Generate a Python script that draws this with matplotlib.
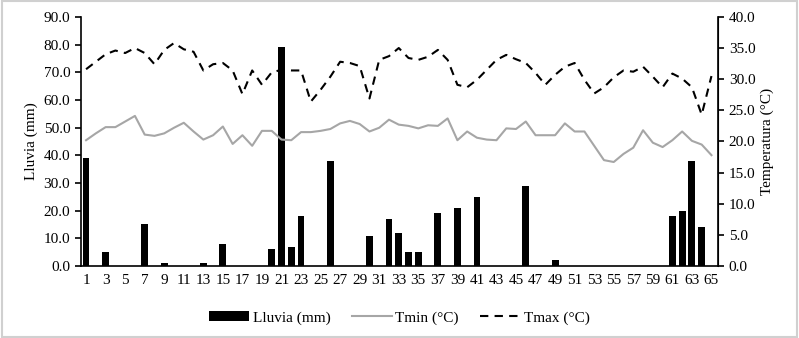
import matplotlib.pyplot as plt
from matplotlib.patches import Rectangle

plt.rcParams['font.family'] = ['Liberation Serif', 'DejaVu Serif']

days = list(range(1, 66))

# rain (mm) per day, zero where no bar
lluvia = [0] * 65
rain_days = {1: 39, 3: 5, 7: 15, 9: 1, 13: 1, 15: 8, 20: 6, 21: 79, 22: 7, 23: 18,
             26: 38, 30: 11, 32: 17, 33: 12, 34: 5, 35: 5, 37: 19, 39: 21, 41: 25,
             46: 29, 49: 2, 61: 18, 62: 20, 63: 38, 64: 14}
for d, v in rain_days.items():
    lluvia[d - 1] = v

tmin = [20.2, 21.3, 22.3, 22.3, 23.2, 24.1, 21.1, 20.9, 21.3, 22.2,
        23.0, 21.6, 20.3, 21.0, 22.4, 19.6, 21.0, 19.3, 21.7, 21.7,
        20.3, 20.2, 21.5, 21.5, 21.7, 22.0, 22.9, 23.3, 22.8, 21.6,
        22.2, 23.5, 22.7, 22.5, 22.1, 22.6, 22.5, 23.7, 20.2, 21.6,
        20.6, 20.3, 20.2, 22.1, 22.0, 23.2, 21.0, 21.0, 21.0, 22.9,
        21.6, 21.6, 19.3, 17.0, 16.7, 18.0, 19.0, 21.8, 19.8, 19.1,
        20.2, 21.6, 20.1, 19.5, 17.8]

tmax = [31.6, 32.8, 34.0, 34.6, 34.2, 35.0, 34.2, 32.4, 34.7, 35.8,
        34.8, 34.4, 31.4, 32.4, 32.6, 31.4, 27.6, 31.4, 29.1, 31.1,
        31.5, 31.4, 31.4, 26.4, 28.3, 30.4, 32.8, 32.6, 32.1, 26.9,
        33.1, 33.7, 35.0, 33.4, 33.1, 33.6, 34.7, 33.1, 29.1, 28.7,
        29.9, 31.5, 33.1, 33.9, 33.2, 32.6, 31.0, 29.1, 30.7, 32.0,
        32.6, 29.9, 27.7, 28.7, 30.3, 31.4, 31.2, 32.0, 30.4, 28.7,
        30.9, 30.1, 28.7, 24.3, 30.5]

fig = plt.figure(figsize=(7.99, 3.38), dpi=100)
ax = fig.add_axes([0.101, 0.213, 0.798, 0.737])
ax2 = ax.twinx()

b = ax.bar(days, lluvia, width=0.7, color='black', label='Lluvia (mm)')
l1, = ax2.plot(days, tmin, color='#a6a6a6', lw=1.5, label='Tmin (°C)')
l2, = ax2.plot(days, tmax, color='black', lw=1.5, ls=(0, (4, 3)), label='Tmax (°C)')

ax.set_xlim(0.45, 65.7)
ax.set_ylim(0, 90)
ax2.set_ylim(0, 40)
ax.set_xticks(days[::2])
ax.set_yticks(range(0, 91, 10))
ax.set_yticklabels([f'{v:.1f}' for v in range(0, 91, 10)])
ax2.set_yticks(range(0, 41, 5))
ax2.set_yticklabels([f'{v:.1f}' for v in range(0, 41, 5)])

for a in (ax, ax2):
    a.spines['top'].set_visible(False)
    a.tick_params(labelsize=11, width=1.2, length=4)
ax.spines['left'].set_linewidth(1.2)
ax.spines['bottom'].set_linewidth(1.2)
ax2.spines['right'].set_linewidth(1.2)
ax2.spines['left'].set_visible(False)
ax2.spines['bottom'].set_visible(False)
ax.tick_params(axis='x', length=0, pad=6)

ax.set_ylabel('Lluvia (mm)', fontsize=11)
ax2.set_ylabel('Temperatura (°C)', fontsize=11)

fig.legend(handles=[b, l1, l2], loc='center', bbox_to_anchor=(0.5, 0.06), ncol=3,
           frameon=False, fontsize=11, handlelength=2.6, columnspacing=1.4,
           handletextpad=0.25)

fig.patches.append(Rectangle((0.002, 0.003), 0.995, 0.993, transform=fig.transFigure,
                             fill=False, edgecolor='#d0d0d0', lw=1.5))

fig.savefig('out.png', dpi=100)
